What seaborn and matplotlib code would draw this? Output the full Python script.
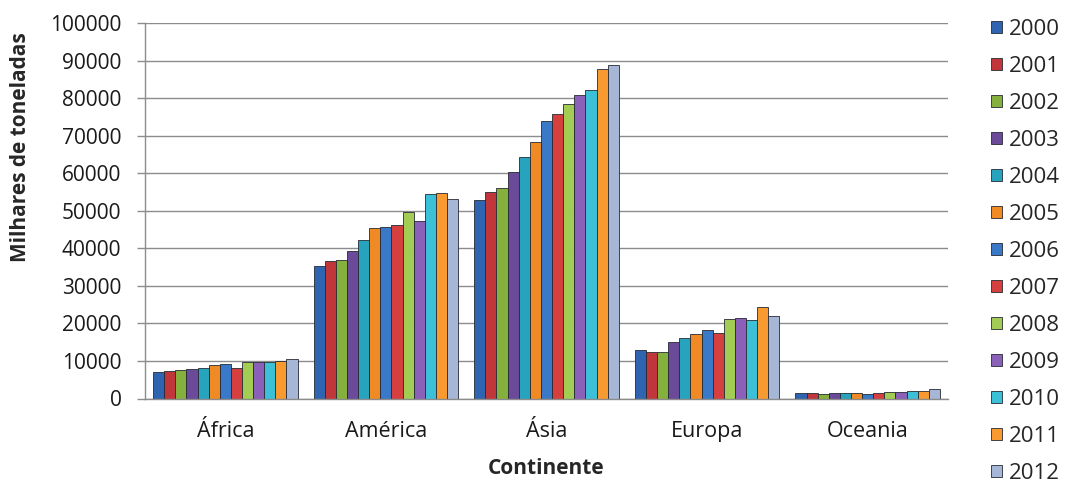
import matplotlib
matplotlib.use("Agg")
import matplotlib.pyplot as plt
import seaborn as sns
import pandas as pd
import numpy as np
from matplotlib.patches import Patch

continentes = ["África", "América", "Ásia", "Europa", "Oceania"]
anos = ["2000", "2001", "2002", "2003", "2004", "2005", "2006",
        "2007", "2008", "2009", "2010", "2011", "2012"]

africa = [7000, 7400, 7600, 7900, 8200, 9000, 9100, 8200, 9600, 9800, 9800, 10100, 10500]
america = [35300, 36700, 37000, 39200, 42300, 45500, 45700, 46200, 49700, 47400, 54400, 54700, 53100]
asia = [52900, 54900, 56000, 60200, 64400, 68400, 73900, 75700, 78500, 80800, 82100, 87700, 88800]
europa = [13000, 12500, 12500, 15000, 16000, 17200, 18300, 17400, 21200, 21500, 20900, 24500, 21900]
oceania = [1500, 1500, 1300, 1500, 1500, 1500, 1300, 1500, 1600, 1700, 1900, 2100, 2500]

cores = ["#2f65b0", "#c1363b", "#86b03e", "#6b4a9a", "#28a3bd", "#f08a24",
         "#3a78c8", "#d5403f", "#a3cc54", "#8a60b8", "#3cc0d8", "#f99a30", "#a6b6d6"]

series = [africa, america, asia, europa, oceania]
rows = []
for cont, vals in zip(continentes, series):
    for ano, v in zip(anos, vals):
        rows.append({"Continente": cont, "Ano": ano, "Valor": v})
df = pd.DataFrame(rows)

sns.set_theme(style="white")
plt.rcParams["font.family"] = ["Open Sans", "DejaVu Sans"]

W, H = 1066, 492
fig = plt.figure(figsize=(W / 100, H / 100), dpi=100)
ax = fig.add_axes([145 / W, 1 - 398.5 / H, (948 - 145) / W, (398.5 - 23) / H])

sns.barplot(data=df, x="Continente", y="Valor", hue="Ano", order=continentes,
            hue_order=anos, palette=cores, width=0.9, edgecolor="#262a33",
            linewidth=0.6, ax=ax, legend=False, saturation=1)

ax.set_ylim(0, 100000)
ax.set_xlim(-0.5, 4.5)
ax.set_yticks(np.arange(0, 100001, 10000))
ax.set_yticklabels([str(v) for v in range(0, 100001, 10000)], fontsize=15, color="#1a1a1a")
ax.yaxis.grid(True, color="#8c8c8c", linewidth=1)
ax.set_axisbelow(True)

ax.set_xticks(range(len(continentes)))
ax.set_xticklabels(continentes, fontsize=15.5, color="#1a1a1a")
ax.set_xticks(np.arange(-0.5, 5, 1), minor=True)
ax.tick_params(axis="x", which="major", length=0, pad=16)
ax.tick_params(axis="x", which="minor", length=7, color="#8c8c8c", width=1, direction="out")
ax.tick_params(axis="y", length=6, color="#8c8c8c", width=1, direction="out", pad=11, left=True)

for s in ["top", "right"]:
    ax.spines[s].set_visible(False)
for s in ["left", "bottom"]:
    ax.spines[s].set_color("#8c8c8c")
    ax.spines[s].set_linewidth(1)

ax.set_xlabel("Continente", fontsize=15, fontweight="bold", labelpad=12)
ax.set_ylabel("Milhares de toneladas", fontsize=15, fontweight="bold")
ax.yaxis.set_label_coords(-114 / (948 - 145), (398.5 - 147) / (398.5 - 23))

handles = [Patch(facecolor=c, edgecolor="#262a33", linewidth=0.6) for c in cores]
fig.legend(handles, anos, loc="upper left", bbox_to_anchor=(991 / W, 1 - 19 / H),
           frameon=False, fontsize=16, labelspacing=0.72, handlelength=0.5,
           handleheight=0.5, handletextpad=0.3, borderpad=0, borderaxespad=0)

fig.savefig("out.png", dpi=100, facecolor="white")
